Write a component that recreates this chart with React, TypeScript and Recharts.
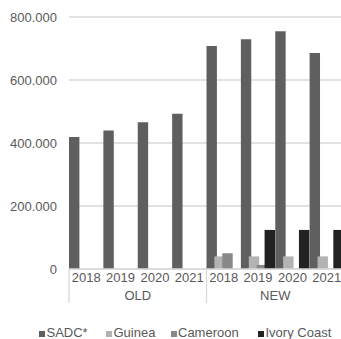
import React from "react";
import { BarChart, Bar, XAxis, YAxis, CartesianGrid, Legend } from "recharts";

const groups = ["OLD", "NEW"];
const years = ["2018", "2019", "2020", "2021"];
const seriesNames = ["SADC*", "Guinea", "Cameroon", "Ivory Coast"];
const seriesColors = ["#5f5f5f", "#b3b3b3", "#888888", "#222222"];

// values per category (OLD 2018..2021, NEW 2018..2021)
const sadc = [419000, 440000, 466000, 493000, 708000, 729000, 755000, 686000];
const guinea = [0, 0, 0, 0, 40000, 40000, 40000, 40000];
const cameroon = [0, 0, 0, 0, 50000, 13000, 0, 0];
const ivoryCoast = [0, 0, 0, 0, 0, 124000, 124000, 124000];

const yTicks = [0, 200000, 400000, 600000, 800000];

const seriesValues = [sadc, guinea, cameroon, ivoryCoast];

const rows = groups.flatMap((g, gi) =>
  years.map((y, yi) => {
    const i = gi * years.length + yi;
    const row: Record<string, any> = { year: y, group: g, idx: i };
    seriesNames.forEach((s, si) => {
      row[s] = seriesValues[si][i];
    });
    return row;
  })
);

const FONT = "'Liberation Sans', Arial, sans-serif";
const TEXT = "#595959";
const LINE = "#d9d9d9";

const fmt = (v: number) => {
  if (v === 0) return "0";
  const s = Math.round(v).toString();
  return s.replace(/\B(?=(\d{3})+(?!\d))/g, ".");
};

const CategoryTick = (props: any) => {
  const { x, y, payload, index } = props;
  const half = payload && typeof payload.offset === "number" && payload.offset > 0 ? payload.offset : 17.2;
  const row = rows[index];
  const posInGroup = index % years.length;
  const isStart = posInGroup === 0;
  const isLabel = posInGroup === Math.floor((years.length - 1) / 2);
  return (
    <g>
      <text x={x} y={y + 12.5} textAnchor="middle" fill={TEXT} fontSize={13} fontFamily={FONT}>
        {payload.value}
      </text>
      {isStart && (
        <line x1={x - half} x2={x - half} y1={y} y2={y + 34} stroke={LINE} strokeWidth={1.3} />
      )}
      {isLabel && row && (
        <text
          x={x + (years.length % 2 === 0 ? half : 0)}
          y={y + 31}
          textAnchor="middle"
          fill={TEXT}
          fontSize={13}
          fontFamily={FONT}
        >
          {row.group}
        </text>
      )}
    </g>
  );
};

const legendLefts = [39, 106, 170.5, 258];

const LegendContent = () => (
  <div style={{ position: "relative", height: 30, width: 341, fontFamily: FONT, fontSize: 13, color: TEXT }}>
    {seriesNames.map((name, i) => (
      <div
        key={name}
        style={{
          position: "absolute",
          left: legendLefts[i],
          top: 16,
          lineHeight: "15px",
          whiteSpace: "nowrap",
        }}
      >
        <span
          style={{
            display: "inline-block",
            width: 6,
            height: 6,
            background: seriesColors[i],
            marginRight: 1.5,
            verticalAlign: "baseline",
          }}
        />
        {name}
      </div>
    ))}
  </div>
);

export default function App() {
  return (
    <div
      style={{
        position: "fixed",
        left: 0,
        top: 0,
        width: 341,
        height: 339,
        overflow: "hidden",
        background: "#ffffff",
      }}
    >
      <BarChart
        width={344}
        height={339}
        data={rows}
        margin={{ top: 17, right: 0, bottom: 0, left: 0 }}
        barCategoryGap={0}
        barGap={-2.5}
      >
        <CartesianGrid vertical={false} stroke={LINE} strokeWidth={1.3} />
        <XAxis
          dataKey="year"
          interval={0}
          height={40}
          tickSize={0}
          tickMargin={0}
          tickLine={false}
          axisLine={{ stroke: LINE, strokeWidth: 1.3 }}
          tick={<CategoryTick />}
        />
        <YAxis
          width={69}
          domain={[0, 800000]}
          ticks={yTicks}
          tickFormatter={fmt}
          axisLine={false}
          tickLine={false}
          tickSize={6}
          tickMargin={6}
          tick={{ fill: TEXT, fontSize: 13, fontFamily: FONT }}
        />
        <Legend
          verticalAlign="bottom"
          content={<LegendContent />}
          wrapperStyle={{ left: 0, bottom: 0, width: 341, height: 30 }}
        />
        {seriesNames.map((name, i) => (
          <Bar
            key={name}
            dataKey={name}
            fill={seriesColors[i]}
            barSize={10.4}
            isAnimationActive={false}
          />
        ))}
      </BarChart>
    </div>
  );
}
